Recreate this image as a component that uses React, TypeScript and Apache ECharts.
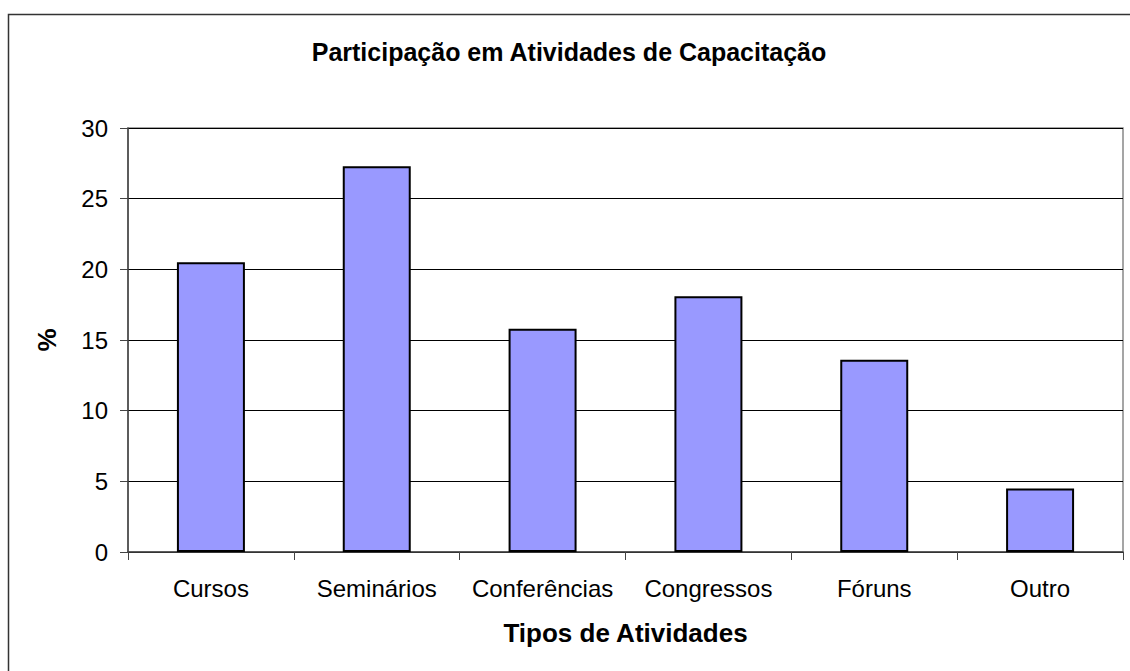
import React, { useEffect, useRef } from "react";
import * as echarts from "echarts";

const categories = ["Cursos", "Seminários", "Conferências", "Congressos", "Fóruns", "Outro"];
const values = [20.5, 27.3, 15.8, 18.1, 13.6, 4.5];
const yTicks = [0, 5, 10, 15, 20, 25, 30];

const FONT = "'Liberation Sans', Arial, sans-serif";

export default function App() {
  const ref = useRef<HTMLDivElement>(null);
  useEffect(() => {
    if (!ref.current) return;
    const chart = echarts.init(ref.current, null, { renderer: "svg" });
    chart.setOption({
      animation: false,
      backgroundColor: "#ffffff",
      title: {
        text: "Participação em Atividades de Capacitação",
        left: 564,
        top: 34,
        textAlign: "center",
        textStyle: { fontFamily: FONT, fontSize: 25, fontWeight: "bold", color: "#000" },
      },
      graphic: [
        {
          type: "rect",
          shape: { x: 8.5, y: 14.5, width: 1140, height: 700 },
          style: { fill: "none", stroke: "#333", lineWidth: 1.5 },
          silent: true,
        },
        {
          type: "rect",
          shape: { x: 128, y: 128, width: 995, height: 424 },
          style: { fill: "none", stroke: "#888", lineWidth: 1.5 },
          silent: true,
          z: -1,
        },
      ],
      grid: { left: 128, right: 7, top: 128, bottom: 119, containLabel: false },
      xAxis: {
        type: "category",
        data: categories,
        name: "Tipos de Atividades",
        nameLocation: "middle",
        nameGap: 68,
        nameTextStyle: { fontFamily: FONT, fontSize: 26, fontWeight: "bold", color: "#000" },
        axisLine: { lineStyle: { color: "#444", width: 1.5 } },
        axisTick: { show: true, length: 8, lineStyle: { color: "#444" }, alignWithLabel: false },
        axisLabel: { fontFamily: FONT, fontSize: 24, color: "#000", margin: 24, interval: 0 },
      },
      yAxis: {
        type: "value",
        min: 0,
        max: 30,
        interval: 5,
        name: "%",
        nameLocation: "middle",
        nameGap: 68,
        nameRotate: 90,
        nameTextStyle: { fontFamily: FONT, fontSize: 26, fontWeight: "bold", color: "#000" },
        axisLine: { show: true, lineStyle: { color: "#444", width: 1.5 } },
        axisTick: { show: true, length: 8, lineStyle: { color: "#444" } },
        axisLabel: {
          fontFamily: FONT,
          fontSize: 24,
          color: "#000",
          margin: 20,
          formatter: (v: number) => (yTicks.includes(v) ? String(v) : ""),
        },
        splitLine: { show: true, lineStyle: { color: "#000", width: 1 } },
      },
      series: [
        {
          type: "bar",
          data: values,
          barWidth: "41%",
          itemStyle: { color: "#9999FF", borderColor: "#000", borderWidth: 2 },
        },
      ],
    });
    return () => chart.dispose();
  }, []);
  return (
    <div
      ref={ref}
      style={{ position: "fixed", left: 0, top: 0, width: 1130, height: 671 }}
    />
  );
}
